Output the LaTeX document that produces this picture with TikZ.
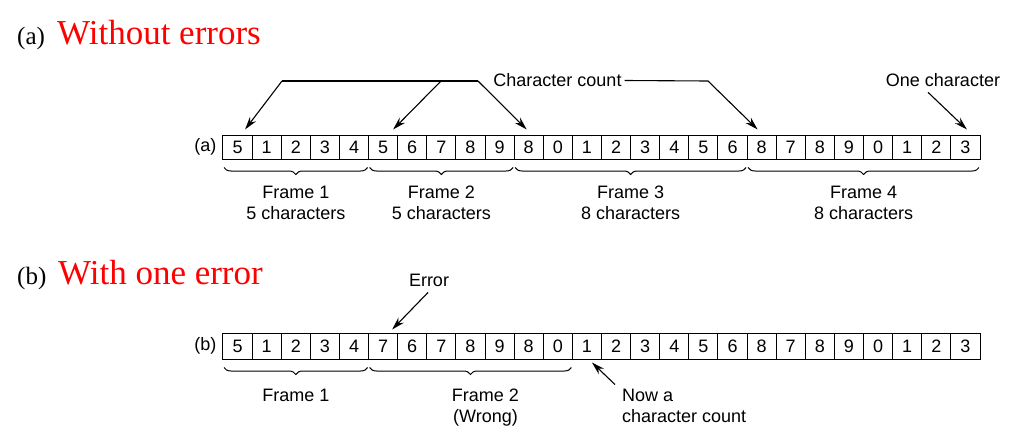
\documentclass[tikz,border=0pt]{standalone}
\usepackage{fontspec}
\setmainfont{Liberation Sans}
\newfontfamily\titlefont{Liberation Serif}
\usetikzlibrary{decorations.pathreplacing,calc,arrows.meta}
\begin{document}
\begin{tikzpicture}[x=1pt,y=-1pt,
  lbl/.style={font=\fontsize{18}{21}\selectfont},
  cella/.style={draw,line width=1pt,minimum width=29.12pt,minimum height=24pt,inner sep=0pt,font=\fontsize{18}{21}\selectfont},
  cellb/.style={cella,minimum height=26pt},
  arr/.style={line width=1.1pt,-{Stealth[length=13pt,width=7.5pt]}},
  plain/.style={line width=1.1pt},
  brc/.style={line width=1pt,decorate,decoration={brace,mirror,amplitude=7pt}},
  frm/.style={lbl,align=center,anchor=north,inner sep=0pt},
  ttl/.style={font=\titlefont\fontsize{25}{25}\selectfont,anchor=base west,inner sep=0pt},
  ttlr/.style={font=\titlefont\fontsize{35}{35}\selectfont,text=red,anchor=base west,inner sep=0pt}]
\useasboundingbox (0,0) rectangle (1010,442);

% titles
\node[ttl] (ta) at (17,44) {(a)};
\node[ttlr] (tA) at (57,44) {Without errors};
\node[ttl] (tb) at (17,284) {(b)};
\node[ttlr] (tB) at (58,284) {With one error};

% row (a)
\foreach \d [count=\i] in {5,1,2,3,4,5,6,7,8,9,8,0,1,2,3,4,5,6,8,7,8,9,0,1,2,3}
  \node[cella] (a\i) at ({223+29.115*(\i-0.5)},147) {\d};
\node[lbl,anchor=east,inner sep=0pt] (la) at ($(a1.west)+(-6,0)$) {(a)};

% row (b)
\foreach \d [count=\i] in {5,1,2,3,4,7,6,7,8,9,8,0,1,2,3,4,5,6,8,7,8,9,0,1,2,3}
  \node[cellb] (b\i) at ({223+29.115*(\i-0.5)},346) {\d};
\node[lbl,anchor=east,inner sep=0pt] (lb) at ($(b1.west)+(-6,0)$) {(b)};

% character count arrows
\node[lbl,inner sep=3pt] (cc) at (557.5,80.5) {Character count};
\coordinate (ccL) at (282,81);
\coordinate (ccM) at (441,81);
\coordinate (ccJ) at (478,81);
\coordinate (ccR) at (708,81);
\draw[plain] (ccJ) -- (ccL);
\draw[arr] (ccL) -- ($(a1.north)+(7.5,-5)$);
\draw[arr] (ccM) -- ($(a6.north)+(10,-5)$);
\draw[arr] (ccJ) -- ($(a11.north)+(-2,-5)$);
\draw[arr] (cc.east) -- (ccR) -- ($(a19.north)+(-4,-5)$);

\node[lbl,inner sep=3pt] (oc) at (943,80.5) {One character};
\draw[arr] ($(oc.south)+(-15,2)$) -- ($(a26.north)+(1.5,-5)$);

% braces row (a)
\draw[brc] ($(a1.south west)+(1.5,8)$) -- ($(a5.south east)+(-1.5,8)$);
\draw[brc] ($(a6.south west)+(1.5,8)$) -- ($(a10.south east)+(-1.5,8)$);
\draw[brc] ($(a11.south west)+(1.5,8)$) -- ($(a18.south east)+(-1.5,8)$);
\draw[brc] ($(a19.south west)+(1.5,8)$) -- ($(a26.south east)+(-1.5,8)$);
\node[frm] (f1) at ($(a1.south west)!0.5!(a5.south east)+(0,26)$) {Frame 1\\5 characters};
\node[frm] (f2) at ($(a6.south west)!0.5!(a10.south east)+(0,26)$) {Frame 2\\5 characters};
\node[frm] (f3) at ($(a11.south west)!0.5!(a18.south east)+(0,26)$) {Frame 3\\8 characters};
\node[frm] (f4) at ($(a19.south west)!0.5!(a26.south east)+(0,26)$) {Frame 4\\8 characters};

% row (b) annotations
\node[lbl,inner sep=3pt] (err) at (429,280) {Error};
\draw[arr] ($(err.south)+(-1,3)$) -- ($(b6.north)+(9,-3)$);

\draw[brc] ($(b1.south west)+(1.5,8)$) -- ($(b5.south east)+(-1.5,8)$);
\draw[brc] ($(b6.south west)+(1.5,8)$) -- ($(b12.south east)+(-1.5,8)$);
\node[frm] (g1) at ($(b1.south west)!0.5!(b5.south east)+(0,29)$) {Frame 1};
\node[frm] (g2) at ($(b6.south west)!0.5!(b12.south east)+(15,29)$) {Frame 2\\(Wrong)};

\node[lbl,align=left,anchor=north west,inner sep=0pt] (now) at (622,388.5) {Now a\\character count};
\draw[arr] ($(now.north west)+(-7,-4)$) -- ($(b13.south)+(5,3)$);
\end{tikzpicture}
\end{document}
